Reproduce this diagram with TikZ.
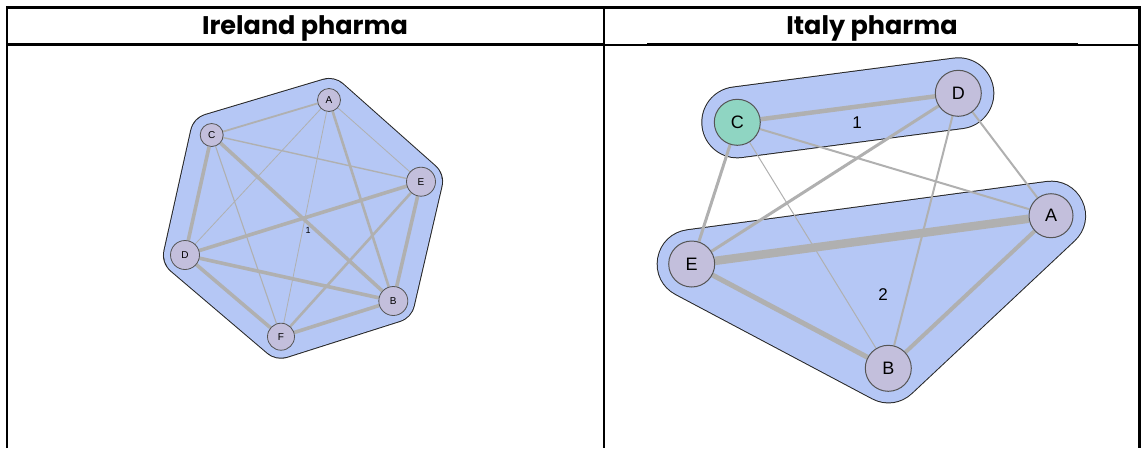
\documentclass[tikz,border=0pt]{standalone}
\usepackage{fontspec}
\setmainfont{Liberation Sans}
\newfontfamily\headfont{Poppins}[BoldFont={* Bold}]
\pgfdeclarelayer{hull}
\pgfdeclarelayer{edges}
\pgfsetlayers{hull,edges,main}
\definecolor{hullblue}{RGB}{181,199,245}
\definecolor{nodefill}{RGB}{195,191,220}
\definecolor{nodeteal}{RGB}{143,213,194}
\definecolor{edgegray}{RGB}{176,176,176}
\definecolor{nodeline}{RGB}{85,85,85}
\tikzset{
  rule/.style={line width=2.2pt, black},
  thinrule/.style={line width=1.1pt, black},
  header/.style={font=\headfont\bfseries\fontsize{25.5}{28}\selectfont, inner sep=0pt},
  smallv/.style={circle, draw=nodeline, line width=0.8pt, fill=nodefill, inner sep=0pt,
    font=\fontsize{10}{11}\selectfont},
  bigv/.style={circle, draw=nodeline, line width=1pt, fill=nodefill, inner sep=0pt,
    minimum size=46pt, font=\fontsize{18}{20}\selectfont},
  tag/.style={inner sep=0pt},
  edge/.style={draw=edgegray, line width=#1},
  hulloutline/.style={draw=black!85, fill=black!85, line width=#1, line join=round, line cap=round},
  hullfill/.style={draw=hullblue, fill=hullblue, line width=#1, line join=round, line cap=round},
}
\begin{document}
\begin{tikzpicture}[x=1pt, y=-1pt]
\useasboundingbox (0,0) rectangle (1141,448);

% ---- table frame ----
\draw[rule] (7,448) -- (7,7.5) -- (1139.5,7.5) -- (1139.5,448);
\draw[rule] (604,7.5) -- (604,448);
\draw[rule] (7,44.5) -- (604,44.5);
\draw[thinrule] (604,45) -- (1140,45);
\draw[rule] (647,44.5) -- (1078,44.5);

\node[header] (hIre) at (305,28) {Ireland pharma};
\node[header] (hIta) at (872,28) {Italy pharma};

% ---- Ireland pharma: one cluster ----
\node[smallv, minimum size=23pt] (iA) at (329,100) {A};
\node[smallv, minimum size=23pt] (iC) at (211.7,135) {C};
\node[smallv, minimum size=29pt] (iE) at (421,181.7) {E};
\node[smallv, minimum size=29pt] (iD) at (185,255) {D};
\node[smallv, minimum size=29pt] (iB) at (393.3,301) {B};
\node[smallv, minimum size=27pt] (iF) at (281,336.7) {F};
\node[tag, font=\fontsize{9}{10}\selectfont] (i1) at (308,230) {1};

\begin{pgfonlayer}{hull}
  \path[hulloutline=44pt] (iA.center) -- (iE.center) -- (iB.center) -- (iF.center)
      -- (iD.center) -- (iC.center) -- cycle;
  \path[hullfill=42pt] (iA.center) -- (iE.center) -- (iB.center) -- (iF.center)
      -- (iD.center) -- (iC.center) -- cycle;
\end{pgfonlayer}

\begin{pgfonlayer}{edges}
  \draw[edge=1.8pt] (iA) -- (iC);
  \draw[edge=0.8pt] (iA) -- (iE);
  \draw[edge=0.8pt] (iA) -- (iD);
  \draw[edge=0.8pt] (iA) -- (iF);
  \draw[edge=2.6pt] (iA) -- (iB);
  \draw[edge=1.4pt] (iC) -- (iE);
  \draw[edge=3.6pt] (iC) -- (iB);
  \draw[edge=3.6pt] (iC) -- (iD);
  \draw[edge=1.1pt] (iC) -- (iF);
  \draw[edge=3.6pt] (iE) -- (iD);
  \draw[edge=3.6pt] (iE) -- (iB);
  \draw[edge=2.6pt] (iE) -- (iF);
  \draw[edge=3.6pt] (iD) -- (iB);
  \draw[edge=3.6pt] (iD) -- (iF);
  \draw[edge=3.6pt] (iF) -- (iB);
\end{pgfonlayer}

% ---- Italy pharma: two clusters ----
\node[bigv, fill=nodeteal] (tC) at (737.3,122.3) {C};
\node[bigv] (tD) at (958.3,93.3) {D};
\node[bigv, minimum size=44pt] (tA) at (1051,215.7) {A};
\node[bigv] (tE) at (691.7,264) {E};
\node[bigv] (tB) at (888.3,368.3) {B};
\node[tag, font=\fontsize{17}{19}\selectfont] (t1) at (857,123) {1};
\node[tag, font=\fontsize{17}{19}\selectfont] (t2) at (883,295) {2};

\begin{pgfonlayer}{hull}
  \path[hulloutline=72pt] (tC.center) -- (tD.center);
  \path[hullfill=70pt] (tC.center) -- (tD.center);
  \path[hulloutline=70pt] (tE.center) -- (tA.center) -- (tB.center) -- cycle;
  \path[hullfill=68pt] (tE.center) -- (tA.center) -- (tB.center) -- cycle;
\end{pgfonlayer}

\begin{pgfonlayer}{edges}
  \draw[edge=4.5pt] (tC) -- (tD);
  \draw[edge=3pt] (tC) -- (tE);
  \draw[edge=2pt] (tC) -- (tA);
  \draw[edge=1pt] (tC) -- (tB);
  \draw[edge=3pt] (tD) -- (tE);
  \draw[edge=2pt] (tD) -- (tB);
  \draw[edge=2pt] (tD) -- (tA);
  \draw[edge=8.5pt] (tE) -- (tA);
  \draw[edge=5pt] (tE) -- (tB);
  \draw[edge=4pt] (tB) -- (tA);
\end{pgfonlayer}
\end{tikzpicture}
\end{document}
